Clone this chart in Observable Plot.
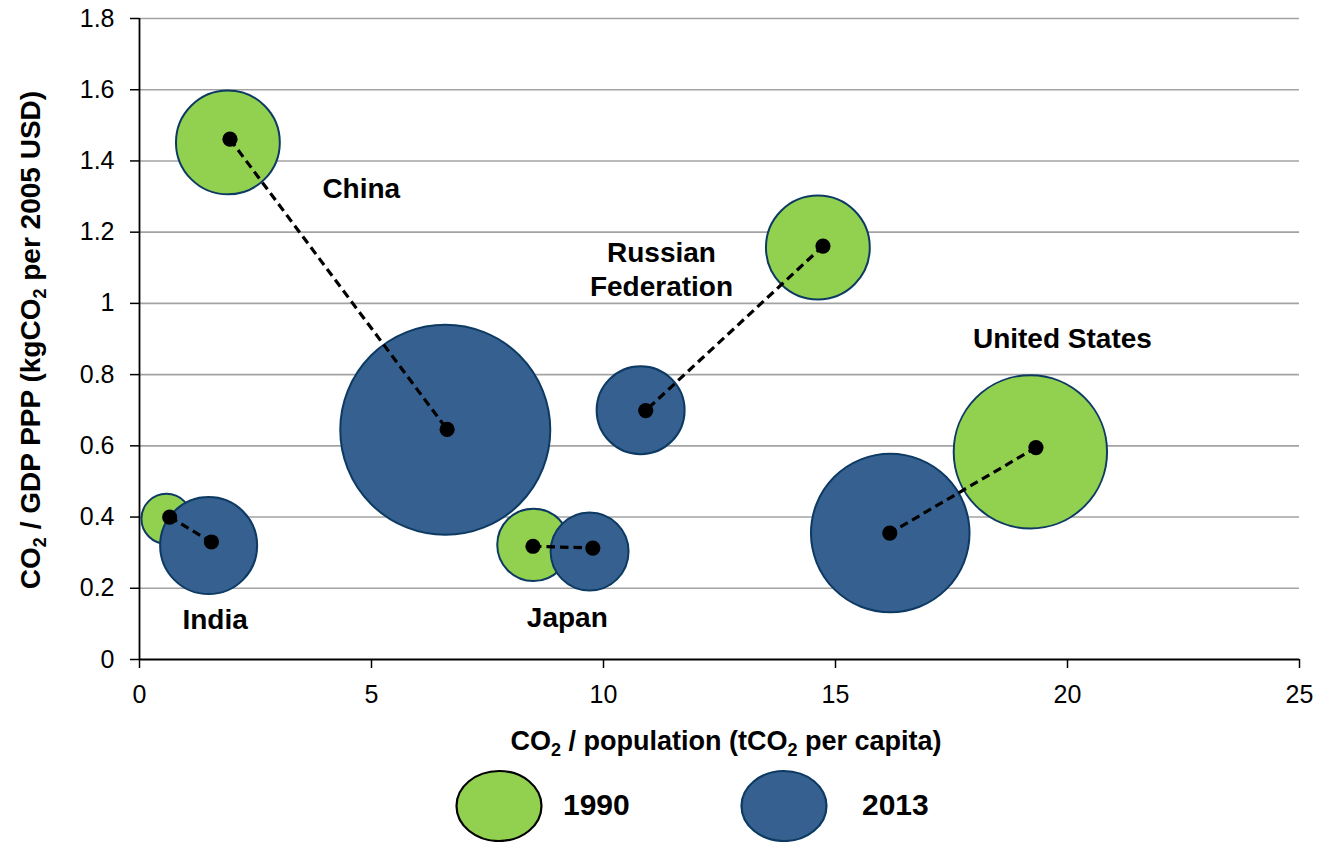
<!DOCTYPE html>
<html><head><meta charset="utf-8">
<script src="https://cdn.jsdelivr.net/npm/d3@7"></script>
<script src="https://cdn.jsdelivr.net/npm/@observablehq/plot@0.6"></script>
<style>
html,body{margin:0;padding:0;background:#fff;}
body{font-family:"Liberation Sans",Arial,sans-serif;}
#chart{width:1333px;height:842px;overflow:hidden;}
#chart svg{display:block;}
</style></head><body><div id="chart"></div>
<script>
// ---- data ----
const countries = ["China", "India", "Japan", "Russian Federation", "United States"];
const years = ["1990", "2013"];
const yearColors = ["#92d050", "#35608f"];
const legendStroke = ["#000000", "#0d3a63"];
// data points (black dots): CO2 per capita, CO2 per GDP PPP
const perCapita1990 = [1.95, 0.65, 8.48, 14.73, 19.32];
const intensity1990 = [1.461, 0.400, 0.318, 1.161, 0.595];
const perCapita2013 = [6.63, 1.55, 9.77, 10.91, 16.17];
const intensity2013 = [0.646, 0.330, 0.313, 0.699, 0.355];
// bubble centres (slightly offset from the dots in the original)
const bubbleX1990 = [1.905, 0.58, 8.49, 14.62, 19.20];
const bubbleY1990 = [1.452, 0.395, 0.322, 1.157, 0.583];
const bubbleX2013 = [6.59, 1.49, 9.70, 10.80, 16.18];
const bubbleY2013 = [0.645, 0.320, 0.303, 0.700, 0.355];
// bubble size: total CO2 emissions (MtCO2)
const emissions1990 = [2200, 510, 1070, 2200, 4800];
const emissions2013 = [9000, 1920, 1240, 1580, 5130];
// country labels
const labelText = ["China", "India", "Japan", "Russian\nFederation", "United States"];
const labelX = [4.78, 1.63, 9.22, 11.25, 19.89];
const labelY = [1.326, 0.116, 0.121, 1.098, 0.905];
// ticks
const xTicks = [0, 5, 10, 15, 20, 25];
const yTicks = [0, 0.2, 0.4, 0.6, 0.8, 1, 1.2, 1.4, 1.6, 1.8];
const yTickLabels = ["0", "0.2", "0.4", "0.6", "0.8", "1", "1.2", "1.4", "1.6", "1.8"];
const xTitle = [["CO", 0], ["2", 1], [" / population (tCO", 0], ["2", 1], [" per capita)", 0]];
const yTitle = [["CO", 0], ["2", 1], [" / GDP PPP (kgCO", 0], ["2", 1], [" per 2005 USD)", 0]];

// ---- tables ----
const bubbles1990 = countries.map((c, i) => ({c, x: bubbleX1990[i], y: bubbleY1990[i], s: emissions1990[i]}));
const bubbles2013 = countries.map((c, i) => ({c, x: bubbleX2013[i], y: bubbleY2013[i], s: emissions2013[i]}));
const points = countries.flatMap((c, i) => [
  {c, x: perCapita1990[i], y: intensity1990[i]},
  {c, x: perCapita2013[i], y: intensity2013[i]}
]);
const links = countries.map((c, i) => ({c, x1: perCapita1990[i], y1: intensity1990[i], x2: perCapita2013[i], y2: intensity2013[i]}));
const labels = countries.map((c, i) => ({t: labelText[i], x: labelX[i], y: labelY[i]}));

const FONT = "Liberation Sans, Arial, Helvetica, sans-serif";
const W = 1333, H = 760;

const chart = Plot.plot({
  width: W, height: H,
  marginLeft: 139, marginRight: 34, marginTop: 18, marginBottom: H - 659,
  style: {fontFamily: FONT, fontSize: "25px", color: "#000", background: "#fff", overflow: "visible"},
  x: {domain: [0, 25], ticks: xTicks, label: null},
  y: {domain: [0, 1.8], ticks: yTicks, label: null},
  r: {type: "sqrt", domain: [0, 9000], range: [0, 105]},
  marks: [
    Plot.gridY(yTicks.filter(d => d > 0), {stroke: "#a3a3a3", strokeOpacity: 1, strokeWidth: 1.6}),
    Plot.axisX({ticks: xTicks, tickSize: 9, tickPadding: 17, fontSize: 25, label: null, strokeWidth: 1.5, tickFormat: d => String(d)}),
    Plot.axisY({ticks: yTicks, tickSize: 9, tickPadding: 16, fontSize: 25, label: null, strokeWidth: 1.5,
      tickFormat: d => yTickLabels[yTicks.indexOf(d)]}),
    Plot.ruleX([0], {y1: 0, y2: 1.8, stroke: "#000", strokeWidth: 1.8}),
    Plot.ruleY([0], {x1: 0, x2: 25, stroke: "#000", strokeWidth: 1.8}),
    Plot.dot(bubbles1990, {x: "x", y: "y", r: "s", fill: yearColors[0], stroke: "#0d3a63", strokeWidth: 2, sort: null}),
    Plot.dot(bubbles2013, {x: "x", y: "y", r: "s", fill: yearColors[1], stroke: "#0d3a63", strokeWidth: 2, sort: null}),
    Plot.link(links, {x1: "x1", y1: "y1", x2: "x2", y2: "y2", stroke: "#000", strokeWidth: 3.2, strokeDasharray: "8.5,5"}),
    Plot.dot(points, {x: "x", y: "y", r: 7.6, fill: "#000", stroke: "none"}),
    Plot.text(labels, {x: "x", y: "y", text: "t", fontSize: 28, fontWeight: "bold", lineHeight: 1.2, fill: "#000"})
  ]
});
document.getElementById("chart").appendChild(chart);

// axis titles with real subscripts
function richText(sel, parts, size) {
  parts.forEach(([s, sub], i) => {
    const t = sel.append("tspan").text(s);
    if (sub) t.attr("font-size", Math.round(size * 0.65)).attr("dy", size * 0.22);
    else if (i > 0 && parts[i - 1][1]) t.attr("dy", -size * 0.22);
  });
}
const svg = d3.select(chart);
const xt = svg.append("text").attr("x", 726).attr("y", 750).attr("text-anchor", "middle")
  .attr("font-family", FONT).attr("font-size", 27).attr("font-weight", "bold").attr("fill", "#000");
richText(xt, xTitle, 27);
const yt = svg.append("text").attr("transform", "translate(40,340) rotate(-90)").attr("text-anchor", "middle")
  .attr("font-family", FONT).attr("font-size", 28).attr("font-weight", "bold").attr("fill", "#000");
richText(yt, yTitle, 28);

// legend below the chart
const lg = d3.select("#chart").append("svg").attr("width", W).attr("height", 842 - H)
  .attr("font-family", FONT).style("display", "block");
const legendCx = [499, 784];
const legendTx = [563, 862];
years.forEach((y, i) => {
  lg.append("ellipse").attr("cx", legendCx[i]).attr("cy", 46).attr("rx", 42.5).attr("ry", 35)
    .attr("fill", yearColors[i]).attr("stroke", legendStroke[i]).attr("stroke-width", 2.2);
  lg.append("text").attr("x", legendTx[i]).attr("y", 44).attr("dy", "0.36em").attr("font-size", 30)
    .attr("font-weight", "bold").attr("fill", "#000").text(y);
});
</script></body></html>
